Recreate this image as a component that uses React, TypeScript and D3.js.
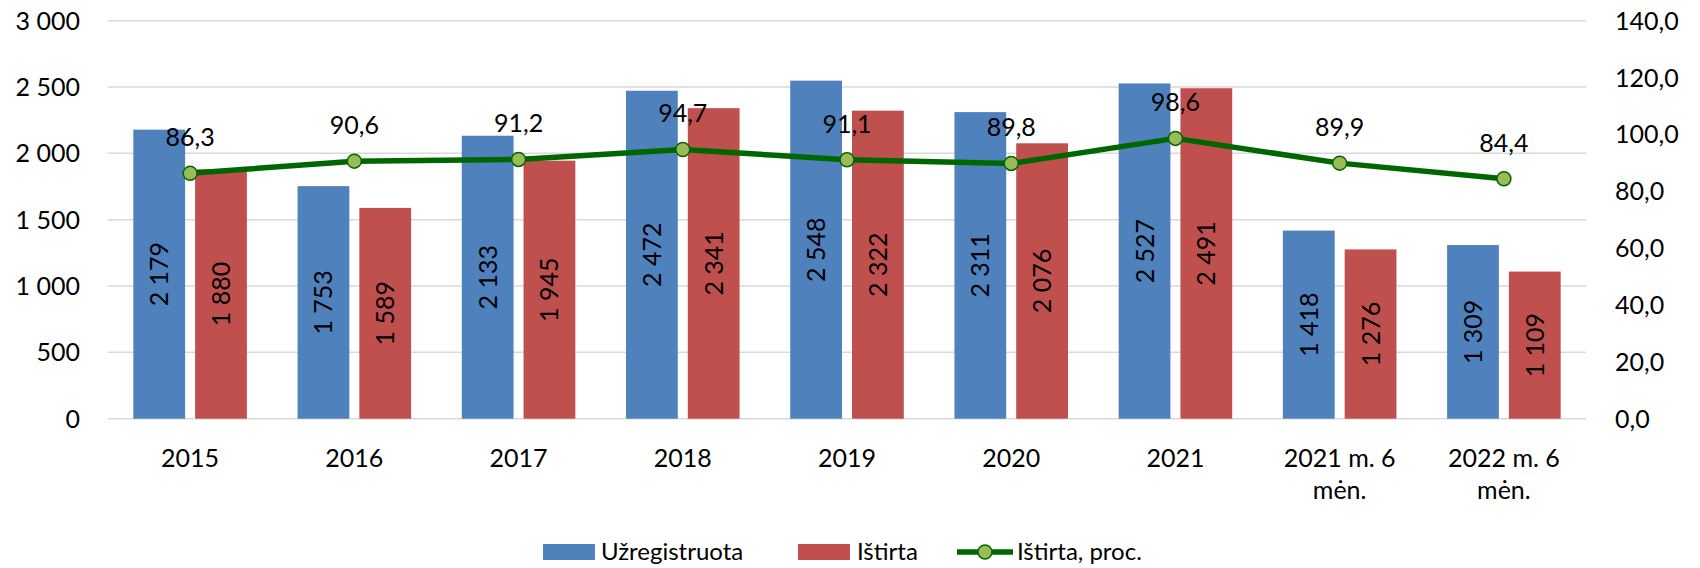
import React from "react";
import * as d3 from "d3";

const categories = ["2015", "2016", "2017", "2018", "2019", "2020", "2021", "2021 m. 6|mėn.", "2022 m. 6|mėn."];
const registered = [2179, 1753, 2133, 2472, 2548, 2311, 2527, 1418, 1309];
const solved = [1880, 1589, 1945, 2341, 2322, 2076, 2491, 1276, 1109];
const solvedPct = [86.3, 90.6, 91.2, 94.7, 91.1, 89.8, 98.6, 89.9, 84.4];
const leftTicks = [0, 500, 1000, 1500, 2000, 2500, 3000];
const rightTicks = [0, 20, 40, 60, 80, 100, 120, 140];
const seriesKeys = ["reg", "ist"];

const BLUE = "#4F81BD";
const RED = "#C0504D";
const GREEN = "#006600";
const MARKER = "#9BBB59";
const FONT = "Lato, 'Open Sans', sans-serif";

const width = 1700;
const height = 568;
const margin = { top: 20.7, right: 114, bottom: 149.3, left: 108 };

const fmtInt = (v: number) => d3.format(",")(v).replace(/,/g, " ");
const fmtDec = (v: number) => v.toFixed(1).replace(".", ",");

export default function App() {
  const x0 = d3
    .scaleBand<string>()
    .domain(categories)
    .range([margin.left, width - margin.right])
    .padding(0);
  const x1 = d3
    .scaleBand<string>()
    .domain(seriesKeys)
    .range([0, x0.bandwidth()])
    .paddingInner(0.162)
    .paddingOuter(0.41);
  const yL = d3.scaleLinear().domain([0, 3000]).range([height - margin.bottom, margin.top]);
  const yR = d3.scaleLinear().domain([0, 140]).range([height - margin.bottom, margin.top]);

  const cx = (c: string) => (x0(c) as number) + x0.bandwidth() / 2;
  const line = d3
    .line<number>()
    .x((_, i) => cx(categories[i]))
    .y((d) => yR(d));

  const bars = [
    { key: "reg", values: registered, color: BLUE },
    { key: "ist", values: solved, color: RED },
  ];

  return (
    <div style={{ position: "absolute", left: 0, top: 0 }}>
      <svg width={width} height={height} style={{ display: "block", background: "#fff" }} fontFamily={FONT}>
        {/* grid */}
        {leftTicks.map((t) => (
          <line
            key={`g${t}`}
            x1={margin.left}
            x2={width - margin.right}
            y1={yL(t)}
            y2={yL(t)}
            stroke="#D9D9D9"
            strokeWidth={1.5}
          />
        ))}
        {/* left axis labels */}
        {leftTicks.map((t) => (
          <text key={`l${t}`} x={80} y={yL(t)} dy="0.36em" textAnchor="end" fontSize={25} fill="#000">
            {fmtInt(t)}
          </text>
        ))}
        {/* right axis labels */}
        {rightTicks.map((t) => (
          <text key={`r${t}`} x={1615} y={yR(t)} dy="0.36em" textAnchor="start" fontSize={25} fill="#000">
            {fmtDec(t)}
          </text>
        ))}

        {/* bars */}
        {bars.map((s) =>
          s.values.map((v, i) => {
            const bx = (x0(categories[i]) as number) + (x1(s.key) as number);
            const by = yL(v);
            const bh = yL(0) - by;
            const mx = bx + x1.bandwidth() / 2;
            const my = by + bh / 2;
            return (
              <g key={`${s.key}${i}`}>
                <rect x={bx} y={by} width={x1.bandwidth()} height={bh} fill={s.color} />
                <text
                  transform={`translate(${mx},${my}) rotate(-90)`}
                  textAnchor="middle"
                  dy="0.36em"
                  fontSize={25}
                  fill="#000"
                >
                  {fmtInt(v)}
                </text>
              </g>
            );
          })
        )}

        {/* line */}
        <path d={line(solvedPct) || ""} fill="none" stroke={GREEN} strokeWidth={5.5} strokeLinejoin="round" />
        {solvedPct.map((v, i) => (
          <g key={`p${i}`}>
            <circle cx={cx(categories[i])} cy={yR(v)} r={7} fill={MARKER} stroke={GREEN} strokeWidth={1.5} />
            <text x={cx(categories[i])} y={yR(v) - 27} textAnchor="middle" fontSize={25} fill="#000">
              {fmtDec(v)}
            </text>
          </g>
        ))}

        {/* category labels */}
        {categories.map((c) => {
          const parts = c.split("|");
          return (
            <text key={`c${c}`} x={cx(c)} y={466.5} textAnchor="middle" fontSize={25} fill="#000">
              {parts.map((p, k) => (
                <tspan key={k} x={cx(c)} dy={k === 0 ? 0 : 32.5}>
                  {p}
                </tspan>
              ))}
            </text>
          );
        })}

        {/* legend */}
        <g fontSize={24} fill="#000">
          <rect x={543} y={544} width={52} height={16} fill={BLUE} />
          <text x={601} y={560}>Užregistruota</text>
          <rect x={798} y={544} width={52} height={16} fill={RED} />
          <text x={857} y={560}>Ištirta</text>
          <line x1={957} x2={1013} y1={552} y2={552} stroke={GREEN} strokeWidth={5.5} />
          <circle cx={985} cy={552} r={7} fill={MARKER} stroke={GREEN} strokeWidth={1.5} />
          <text x={1017} y={560}>Ištirta, proc.</text>
        </g>
      </svg>
    </div>
  );
}
